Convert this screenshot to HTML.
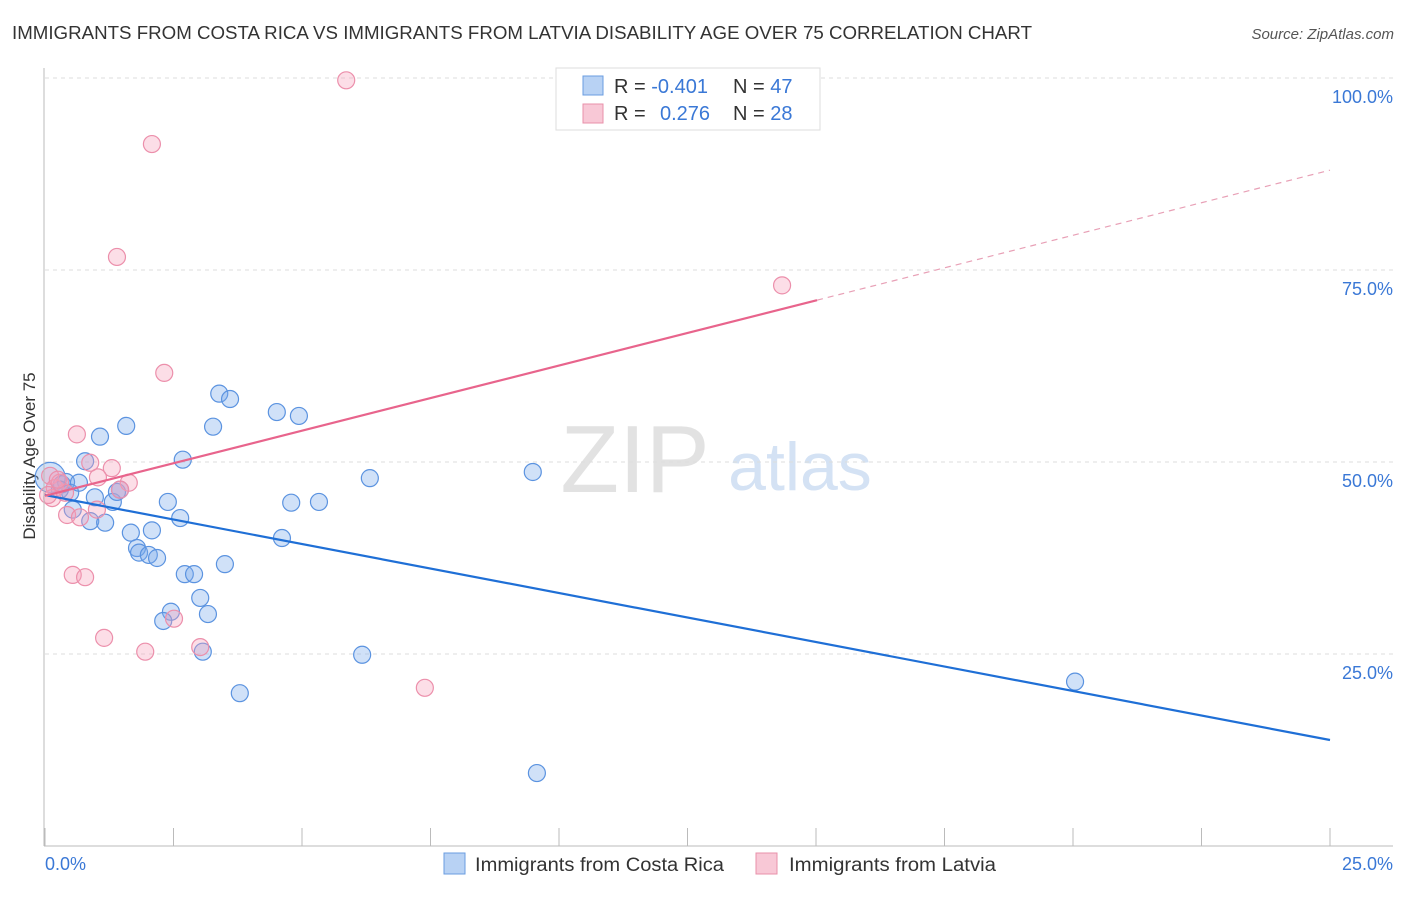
<!DOCTYPE html>
<html><head><meta charset="utf-8"><style>
body{margin:0;background:#fff;font-family:"Liberation Sans",sans-serif}
svg text{font-family:"Liberation Sans",sans-serif}
</style></head><body>
<svg id="c" width="1406" height="892">
<text x="12" y="39" font-size="18" fill="#333" textLength="1020" lengthAdjust="spacingAndGlyphs">IMMIGRANTS FROM COSTA RICA VS IMMIGRANTS FROM LATVIA DISABILITY AGE OVER 75 CORRELATION CHART</text>
<text x="1394" y="39" font-size="15" fill="#555" text-anchor="end" font-style="italic">Source: ZipAtlas.com</text>
<text x="35" y="456" font-size="17" fill="#333" text-anchor="middle" transform="rotate(-90 35 456)">Disability Age Over 75</text>
<text x="635" y="492" font-size="96" fill="#e2e2e2" font-family="Liberation Serif" text-anchor="middle">ZIP</text>
<text x="800" y="490" font-size="68" fill="#d4e2f4" text-anchor="middle">atlas</text>
<g id="grid"></g><g id="pts"></g><g id="lines"></g>
<line x1="44" y1="68" x2="44" y2="846" stroke="#bbb"/>
<line x1="44" y1="846" x2="1393" y2="846" stroke="#bbb"/>
<text x="45" y="870" font-size="18" fill="#3a78d6">0.0%</text>
<text x="1393" y="870" font-size="18" fill="#3a78d6" text-anchor="end">25.0%</text>
<g>
<rect x="556" y="68" width="264" height="62" fill="#fff" stroke="#ddd"/>
<rect x="583" y="76" width="20" height="19" fill="#b8d2f4" stroke="#6a9ce0"/>
<rect x="583" y="104" width="20" height="19" fill="#f8c8d6" stroke="#e890aa"/>
<text x="614" y="93" font-size="20" fill="#333">R = <tspan fill="#3a78d6">-0.401</tspan></text>
<text x="733" y="93" font-size="20" fill="#333">N = <tspan fill="#3a78d6">47</tspan></text>
<text x="614" y="120" font-size="20" fill="#333">R = <tspan fill="#3a78d6" x="660">0.276</tspan></text>
<text x="733" y="120" font-size="20" fill="#333">N = <tspan fill="#3a78d6">28</tspan></text>
</g>
<g>
<rect x="444" y="853" width="21" height="21" fill="#b8d2f4" stroke="#6a9ce0"/>
<text x="475" y="871" font-size="19" fill="#333" textLength="249" lengthAdjust="spacingAndGlyphs">Immigrants from Costa Rica</text>
<rect x="756" y="853" width="21" height="21" fill="#f8c8d6" stroke="#e890aa"/>
<text x="789" y="871" font-size="19" fill="#333" textLength="207" lengthAdjust="spacingAndGlyphs">Immigrants from Latvia</text>
</g>
</svg>
<script>
const yTicks=[25,50,75,100];
const yTickLabels=["25.0%","50.0%","75.0%","100.0%"];
const xTicks=[0,2.5,5,7.5,10,12.5,15,17.5,20,22.5,25];
const blueX=[0.10,0.33,0.41,0.29,0.49,0.78,1.07,1.58,0.66,0.97,1.32,1.40,1.46,0.54,0.88,1.17,2.39,2.68,3.39,3.60,3.27,4.51,4.94,1.67,1.79,1.83,2.02,2.18,2.08,2.63,2.72,2.90,3.50,2.45,2.30,3.02,3.17,3.07,3.79,4.79,5.33,4.61,6.32,6.17,9.49,9.57,20.04];
const blueY=[48.0,47.1,47.4,46.4,46.0,50.1,53.3,54.7,47.3,45.4,44.8,46.1,46.4,43.8,42.3,42.1,44.8,50.3,58.9,58.2,54.6,56.5,56.0,40.8,38.8,38.2,37.9,37.5,41.1,42.7,35.4,35.4,36.7,30.5,29.3,32.3,30.2,25.3,19.9,44.7,44.8,40.1,47.9,24.9,48.7,9.5,21.4];
const pinkX=[5.86,2.08,1.40,2.32,0.62,0.88,1.30,1.03,1.63,1.46,0.10,0.19,0.14,0.39,0.29,0.43,0.68,1.01,0.54,0.78,1.15,1.95,2.51,3.02,7.39,14.34,0.06,0.25];
const pinkY=[99.7,91.4,76.7,61.6,53.6,49.9,49.2,48.0,47.3,46.4,48.2,46.6,45.3,46.0,47.3,43.1,42.8,43.8,35.3,35.0,27.1,25.3,29.6,25.9,20.6,73.0,45.7,47.7];
const blueTrend=[45.7,13.8];
const pinkTrend=[45.6,88.0];
const pinkSolidEnd=15.02;
const X=v=>45+v/25*1285, Y=v=>846-v/100*768;
const NS="http://www.w3.org/2000/svg";
function mk(t,p,a){const e=document.createElementNS(NS,t);for(const k in a)e.setAttribute(k,a[k]);p.appendChild(e);return e;}
const g=document.getElementById('grid');
yTicks.forEach((t,i)=>{
 const l=mk('line',g,{x1:45,x2:1393,y1:Y(t),y2:Y(t),stroke:'#ddd','stroke-dasharray':'4,4'});
 
 
 const tx=mk('text',g,{x:1393,y:Y(t)+25,'font-size':18,fill:'#3a78d6','text-anchor':'end'});
 tx.textContent=yTickLabels[i];
 
 
});
xTicks.forEach(t=>{
 const l=mk('line',g,{x1:X(t),x2:X(t),y1:828,y2:846,stroke:'#bbb'});
 
 
});
const p=document.getElementById('pts');
blueX.forEach((x,i)=>{
 const c=mk('circle',p,{cx:X(x),cy:Y(blueY[i]),r:i===0?15:8.5,fill:'rgba(120,170,235,0.35)',stroke:'#5b93e0','stroke-width':1.2});
 
 
});
pinkX.forEach((x,i)=>{
 const c=mk('circle',p,{cx:X(x),cy:Y(pinkY[i]),r:8.5,fill:'rgba(245,160,185,0.35)',stroke:'#ec8fab','stroke-width':1.2});
 
 
});
const L=document.getElementById('lines');
const bl=mk('line',L,{x1:X(0),y1:Y(blueTrend[0]),x2:X(25),y2:Y(blueTrend[1]),stroke:'#1f6fd6','stroke-width':2.2});


const pm=v=>pinkTrend[0]+(pinkTrend[1]-pinkTrend[0])*v/25;
const pl=mk('line',L,{x1:X(0),y1:Y(pinkTrend[0]),x2:X(pinkSolidEnd),y2:Y(pm(pinkSolidEnd)),stroke:'#e8648c','stroke-width':2.2});


const pd=mk('line',L,{x1:X(pinkSolidEnd),y1:Y(pm(pinkSolidEnd)),x2:X(25),y2:Y(pinkTrend[1]),stroke:'#e8a0b6','stroke-width':1.2,'stroke-dasharray':'6,5'});


</script>
</body></html>
